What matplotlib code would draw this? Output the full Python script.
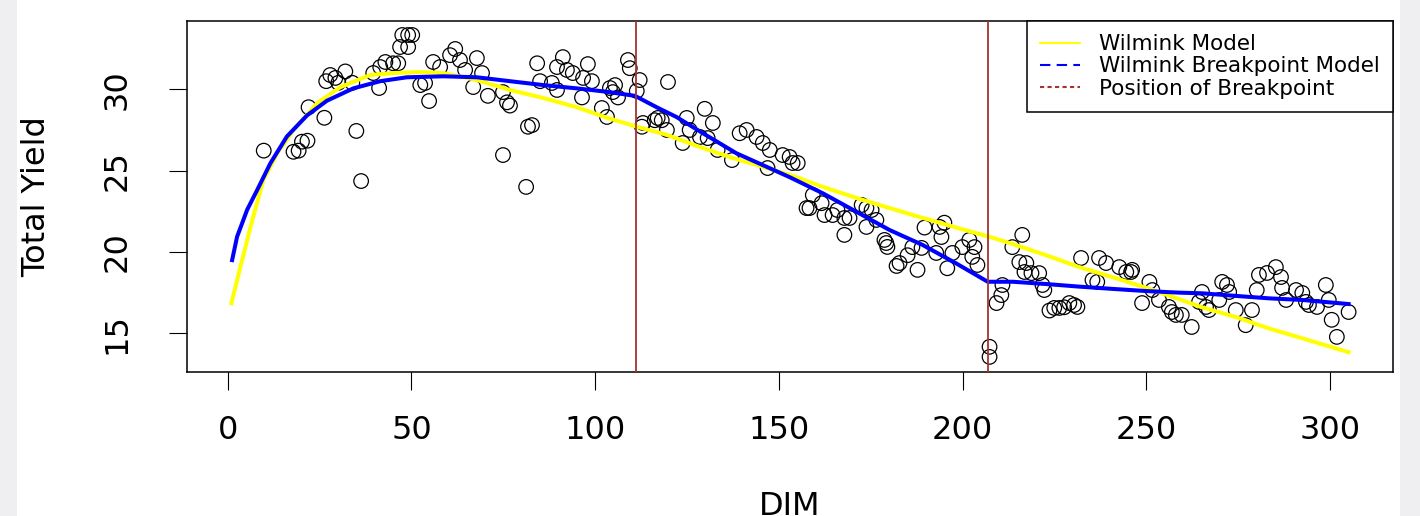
import matplotlib
matplotlib.use("Agg")
import matplotlib.pyplot as plt
from matplotlib.lines import Line2D
from matplotlib.patches import Rectangle

# ---------------- data ----------------
dim = [9.8, 17.9, 19.3, 20.2, 21.7, 22.0, 26.3, 26.8, 27.9, 29.3, 32.0, 30.1, 33.9,
       35.0, 36.3, 39.6, 41.5, 42.9, 45.0, 46.4, 41.2, 47.5, 49.1, 50.2, 46.9, 49.1,
       52.4, 53.7, 54.8, 55.9, 57.8, 61.9, 60.5, 63.2, 64.6, 66.8, 67.8, 69.2, 70.8,
       74.9, 76.0, 76.8, 74.9, 81.7, 82.8, 81.2, 84.2, 85.0, 88.2, 89.6, 91.2, 89.6,
       92.3, 93.9, 98.0, 99.1, 96.4, 96.7, 101.8, 103.2, 104.0, 105.4, 106.2, 108.9,
       109.4, 112.1, 111.3, 119.8, 112.7, 116.2, 117.0, 118.1, 119.5, 123.8, 124.9,
       129.8, 132.0, 130.6, 133.3, 137.2, 139.3, 141.2, 143.9, 145.6, 146.9, 147.5,
       151.0, 152.9, 153.7, 113.0, 128.5, 125.7, 104.8, 155.1, 158.3, 157.5, 159.2,
       161.6, 162.4, 164.6, 165.9, 167.8, 169.2, 167.8, 172.5, 173.8, 175.2, 176.5,
       173.8, 178.7, 179.5, 179.2, 182.0, 182.8, 185.0, 186.3, 187.7, 188.8, 189.6,
       193.7, 194.2, 192.8, 195.8, 197.2, 199.9, 201.8, 202.6, 204.0, 203.2, 195.0,
       207.3, 207.3, 216.2, 213.5, 215.4, 217.3, 216.8, 218.7, 220.8, 221.7, 222.2,
       210.8, 210.5, 209.2, 223.6, 224.9, 226.3, 227.6, 229.0, 230.3, 231.2, 232.2,
       237.1, 235.3, 236.6, 239.0, 242.6, 244.5, 245.8, 246.1, 250.8, 251.6, 248.8,
       253.4, 256.1, 256.9, 258.0, 259.6, 262.3, 265.1, 264.3, 266.2, 267.0, 270.6,
       271.9, 272.5, 269.8, 274.3, 277.0, 278.7, 280.0, 280.6, 282.8, 285.2, 286.6,
       286.9, 288.0, 290.7, 292.4, 293.4, 294.2, 296.4, 298.8, 300.4, 301.8, 305.0,
       299.6]
total_yield = [26.23, 26.16, 26.23, 26.78, 26.84, 28.9, 28.25, 30.5, 30.88, 30.7, 31.1,
               30.4, 30.4, 27.44, 24.36, 31.0, 31.37, 31.68, 31.6, 31.6, 30.08, 33.34,
               33.34, 33.34, 32.6, 32.6, 30.26, 30.39, 29.28, 31.68, 31.37, 32.48, 32.1,
               31.8, 31.19, 30.14, 31.92, 31.0, 29.6, 29.83, 29.2, 29.0, 25.96, 27.7,
               27.8, 24.0, 31.6, 30.5, 30.39, 29.96, 31.98, 31.37, 31.19, 31.0, 31.55,
               30.5, 29.5, 30.7, 28.85, 28.3, 30.08, 30.26, 29.5, 31.8, 31.3, 30.57,
               29.9, 30.45, 27.7, 28.1, 28.24, 28.1, 27.5, 26.7, 28.24, 28.8, 27.93,
               27.0, 26.27, 25.65, 27.3, 27.5, 27.07, 26.7, 25.16, 26.27, 25.96, 25.84,
               25.47, 27.93, 27.07, 27.5, 29.83, 25.47, 22.7, 22.7, 23.5, 23.0, 22.27,
               22.27, 22.58, 22.09, 22.09, 21.05, 22.89, 22.7, 22.58, 21.97, 21.54,
               20.74, 20.31, 20.55, 19.14, 19.32, 19.8, 20.3, 18.9, 20.25, 21.5, 21.54,
               20.92, 19.94, 19.0, 19.94, 20.3, 20.74, 19.7, 19.2, 20.3, 21.8, 14.17,
               13.55, 21.05, 20.3, 19.38, 19.32, 18.77, 18.7, 18.7, 17.97, 17.66, 17.97,
               17.35, 16.86, 16.4, 16.56, 16.56, 16.6, 16.86, 16.74, 16.62, 19.63, 19.63,
               18.28, 18.16, 19.32, 19.07, 18.77, 18.77, 18.9, 18.16, 17.66, 16.86, 17.05,
               16.62, 16.31, 16.13, 16.13, 15.39, 17.54, 16.93, 16.62, 16.43, 18.16,
               17.97, 17.54, 17.05, 16.43, 15.5, 16.43, 17.66, 18.59, 18.71, 19.07, 18.46,
               17.79, 17.05, 17.66, 17.48, 16.93, 16.74, 16.62, 17.97, 15.83, 14.78,
               16.31, 17.05]

wilmink_dim = [1, 3.45, 6.2, 9.7, 13.5, 17.9, 24.4, 30.7, 38.8, 45.0, 52.4, 58.6, 67.8,
               76.8, 85.8, 95.0, 103.4, 111.3, 119.5, 128.5, 137.4, 146.6, 154.8, 161.9,
               171.1, 180.1, 189.0, 198.3, 206.7, 213.5, 222.7, 231.7, 240.8, 249.9,
               258.9, 265.1, 274.3, 283.3, 292.3, 305]
wilmink_fit = [16.85, 19.08, 21.54, 24.43, 26.08, 27.5, 29.16, 30.14, 30.88, 31.0, 31.06,
               31.0, 30.57, 29.96, 29.47, 28.9, 28.24, 27.7, 27.2, 26.45, 25.78, 25.17,
               24.6, 24.0, 23.32, 22.7, 22.1, 21.5, 20.97, 20.5, 19.8, 19.07, 18.45,
               17.8, 17.1, 16.6, 16.0, 15.3, 14.7, 13.84]

bp_dim = [1.2, 2.55, 5.3, 8.0, 11.6, 16.1, 21.6, 27.0, 34.2, 41.5, 48.75, 58.7, 67.8,
          76.8, 85.9, 94.9, 103.1, 110.8, 116.7, 122.1, 129.3, 138.4, 146.6, 152.9,
          162.0, 171.0, 180.1, 189.1, 198.2, 206.8, 213.6, 222.7, 231.7, 240.8, 249.8,
          258.9, 265.2, 274.3, 283.3, 292.4, 305]
bp_fit = [19.5, 20.94, 22.6, 23.8, 25.45, 27.1, 28.4, 29.3, 30.06, 30.5, 30.74, 30.8,
          30.74, 30.5, 30.26, 30.06, 29.85, 29.6, 28.9, 28.3, 27.3, 26.07, 25.24, 24.6,
          23.6, 22.48, 21.35, 20.43, 19.3, 18.17, 18.17, 18.03, 17.87, 17.73, 17.6,
          17.5, 17.46, 17.3, 17.15, 17.05, 16.8]

breakpoints = [111, 207]

x_ticks = [0, 50, 100, 150, 200, 250, 300]
y_ticks = [15, 20, 25, 30]
legend_labels = ["Wilmink Model", "Wilmink Breakpoint Model", "Position of Breakpoint"]

# ---------------- figure ----------------
W, H = 1420, 516
fig = plt.figure(figsize=(W / 100, H / 100), dpi=100, facecolor="#efeef0")
fig.patches.append(Rectangle((17 / W, 0), (1400 - 17) / W, 1, transform=fig.transFigure,
                             facecolor="white", edgecolor="none", zorder=-10))

left, right, top, bottom = 186.7, 1393.3, 21.0, 371.7
ax = fig.add_axes([left / W, 1 - bottom / H, (right - left) / W, (bottom - top) / H])

ax.scatter(dim, total_yield, s=110, facecolors="none", edgecolors="black",
           linewidths=0.9, zorder=2)
ax.plot(wilmink_dim, wilmink_fit, color="#FFFF00", lw=2.9, zorder=3)
ax.plot(bp_dim, bp_fit, color="#0000FF", lw=2.9, zorder=4)
for b in breakpoints:
    ax.axvline(b, color="#A83232", lw=1.3, zorder=5)

ax.set_xlim(-11.16, 317.16)
ax.set_ylim(12.64, 34.2)
ax.set_xticks(x_ticks)
ax.set_yticks(y_ticks)
ax.tick_params(direction="out", length=13, width=0.8, labelsize=23)
ax.tick_params(axis="x", pad=18)
ax.tick_params(axis="y", pad=26)
for lbl in ax.get_yticklabels():
    lbl.set_rotation(90)
    lbl.set_va("center")
for s in ax.spines.values():
    s.set_linewidth(1.1)

ax.set_xlabel("DIM", fontsize=23, va="baseline")
ax.xaxis.set_label_coords(0.5, (bottom - 515) / (bottom - top))
ax.set_ylabel("Total Yield", fontsize=23, va="center", ha="center")
ax.yaxis.set_label_coords((37 - left) / (right - left), 0.5)

handles = [Line2D([], [], color="#FFFF00", lw=1.5),
           Line2D([], [], color="#0000FF", lw=1.5, dashes=(5, 3)),
           Line2D([], [], color="#A83232", lw=1.5, dashes=(2, 1.6))]
leg = ax.legend(handles, legend_labels, loc="upper right", borderaxespad=0,
                fancybox=False, edgecolor="black", framealpha=1, fontsize=15.5,
                handlelength=1.85, handletextpad=0.9, labelspacing=0.1,
                borderpad=0.62)
leg.get_frame().set_linewidth(1.1)
leg.set_zorder(10)

fig.savefig("out.png", dpi=100, facecolor=fig.get_facecolor())
